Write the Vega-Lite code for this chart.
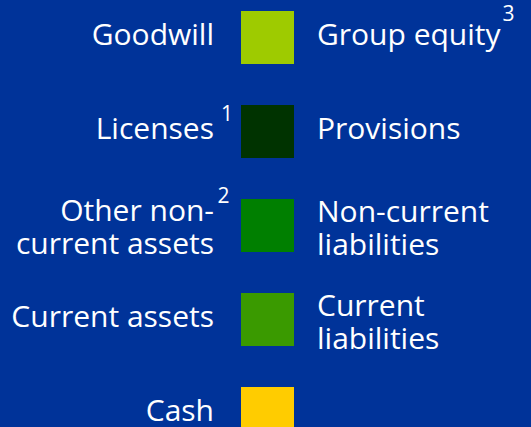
{
  "$schema": "https://vega.github.io/schema/vega-lite/v6.json",
  "width": 527,
  "height": 427,
  "padding": {"left": 4, "top": 0, "right": 0, "bottom": 0},
  "autosize": "none",
  "background": "#003399",
  "config": {"view": {"stroke": null}},
  "data": {
    "values": [
      {"row": 0, "left": "Goodwill", "right": "Group equity", "color": "#9ECB00", "lsup": "", "rsup": "3"},
      {"row": 1, "left": "Licenses", "right": "Provisions", "color": "#003300", "lsup": "1", "rsup": ""},
      {"row": 2, "left": "Other non-\ncurrent assets", "right": "Non-current\nliabilities", "color": "#007F00", "lsup": "2", "rsup": ""},
      {"row": 3, "left": "Current assets", "right": "Current\nliabilities", "color": "#3A9A00", "lsup": "", "rsup": ""},
      {"row": 4, "left": "Cash", "right": "", "color": "#FFCC00", "lsup": "", "rsup": ""}
    ]
  },
  "encoding": {
    "y": {
      "field": "row",
      "type": "quantitative",
      "scale": {"domain": [-0.3989, 4.1436], "reverse": true, "nice": false, "zero": false},
      "axis": null
    }
  },
  "layer": [
    {
      "mark": {"type": "point", "shape": "square", "size": 2809, "filled": true, "opacity": 1, "strokeWidth": 0},
      "encoding": {"color": {"field": "color", "type": "nominal", "scale": null, "legend": null}}
    },
    {
      "transform": [{"filter": "indexof(datum.left, '\\n') < 0"}],
      "mark": {"type": "text", "align": "right", "baseline": "alphabetic", "dx": -53.5, "dy": 7.5, "font": "Open Sans", "fontSize": 30, "color": "#ffffff"},
      "encoding": {"text": {"field": "left", "type": "nominal"}}
    },
    {
      "transform": [{"filter": "indexof(datum.left, '\\n') >= 0"}],
      "mark": {"type": "text", "align": "right", "baseline": "alphabetic", "dx": -53.5, "dy": -4, "font": "Open Sans", "fontSize": 30, "lineHeight": 33, "lineBreak": "\n", "color": "#ffffff"},
      "encoding": {"text": {"field": "left", "type": "nominal"}}
    },
    {
      "transform": [{"filter": "indexof(datum.right, '\\n') < 0"}],
      "mark": {"type": "text", "align": "left", "baseline": "alphabetic", "dx": 49.5, "dy": 7.5, "font": "Open Sans", "fontSize": 30, "color": "#ffffff"},
      "encoding": {"text": {"field": "right", "type": "nominal"}}
    },
    {
      "transform": [{"filter": "indexof(datum.right, '\\n') >= 0"}],
      "mark": {"type": "text", "align": "left", "baseline": "alphabetic", "dx": 49.5, "dy": -3.5, "font": "Open Sans", "fontSize": 30, "lineHeight": 33, "lineBreak": "\n", "color": "#ffffff"},
      "encoding": {"text": {"field": "right", "type": "nominal"}}
    },
    {
      "transform": [{"filter": "datum.lsup == '1'"}],
      "mark": {"type": "text", "align": "left", "baseline": "alphabetic", "dx": -46.5, "dy": -10.5, "font": "Open Sans", "fontSize": 21, "color": "#ffffff"},
      "encoding": {"text": {"field": "lsup", "type": "nominal"}}
    },
    {
      "transform": [{"filter": "datum.lsup == '2'"}],
      "mark": {"type": "text", "align": "left", "baseline": "alphabetic", "dx": -50, "dy": -22.5, "font": "Open Sans", "fontSize": 21, "color": "#ffffff"},
      "encoding": {"text": {"field": "lsup", "type": "nominal"}}
    },
    {
      "transform": [{"filter": "datum.rsup != ''"}],
      "mark": {"type": "text", "align": "left", "baseline": "alphabetic", "dx": 235, "dy": -16.5, "font": "Open Sans", "fontSize": 21, "color": "#ffffff"},
      "encoding": {"text": {"field": "rsup", "type": "nominal"}}
    }
  ]
}
